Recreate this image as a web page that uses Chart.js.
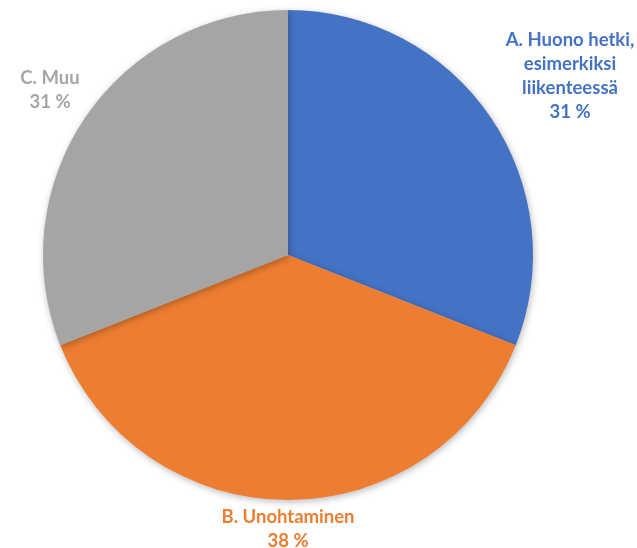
<!DOCTYPE html>
<html>
<head>
<meta charset="utf-8">
<script src="https://cdn.jsdelivr.net/npm/chart.js@4.4.0/dist/chart.umd.min.js"></script>
<style>
    html, body { margin: 0; padding: 0; background: #fff; }
    #wrap { position: relative; width: 637px; height: 548px; }
</style>
</head>
<body>
<div id="wrap">
    <canvas id="pie" width="637" height="548"></canvas>
</div>
<script>
    // answer categories and their shares (%)
    const labels = ["A. Huono hetki, esimerkiksi liikenteessä", "B. Unohtaminen", "C. Muu"];
    const values = [31, 38, 31];
    const colors = ["#4472C4", "#ED7D31", "#A5A5A5"];

    // label lines as drawn (wrapped) and where each block sits
    const labelLines = [
        ["A. Huono hetki,", "esimerkiksi", "liikenteessä"],
        ["B. Unohtaminen"],
        ["C. Muu"]
    ];
    const labelPos = [[570, 40], [288, 517], [50, 78]];

    const shadowPlugin = {
        id: "softShadow",
        beforeDatasetDraw(chart) {
            const ctx = chart.ctx;
            ctx.save();
            ctx.shadowColor = "rgba(0,0,0,0.28)";
            ctx.shadowBlur = 7;
            ctx.shadowOffsetX = 1;
            ctx.shadowOffsetY = 2;
        },
        afterDatasetDraw(chart) {
            chart.ctx.restore();
        }
    };

    const labelPlugin = {
        id: "sliceLabels",
        afterDraw(chart) {
            const ctx = chart.ctx;
            ctx.save();
            ctx.font = "bold 18.5px Lato, 'Open Sans', sans-serif";
            ctx.textAlign = "center";
            ctx.textBaseline = "middle";
            values.forEach((v, i) => {
                const lines = labelLines[i].concat([v + " %"]);
                ctx.fillStyle = colors[i];
                lines.forEach((t, k) => {
                    ctx.fillText(t, labelPos[i][0], labelPos[i][1] + k * 24);
                });
            });
            ctx.restore();
        }
    };

    new Chart(document.getElementById("pie"), {
        type: "pie",
        data: {
            labels: labels,
            datasets: [{
                data: values,
                backgroundColor: colors,
                borderWidth: 0
            }]
        },
        options: {
            responsive: false,
            animation: false,
            layout: { padding: { left: 43, right: 104, top: 10, bottom: 48 } },
            plugins: {
                legend: { display: false },
                tooltip: { enabled: false }
            }
        },
        plugins: [shadowPlugin, labelPlugin]
    });
</script>
</body>
</html>
